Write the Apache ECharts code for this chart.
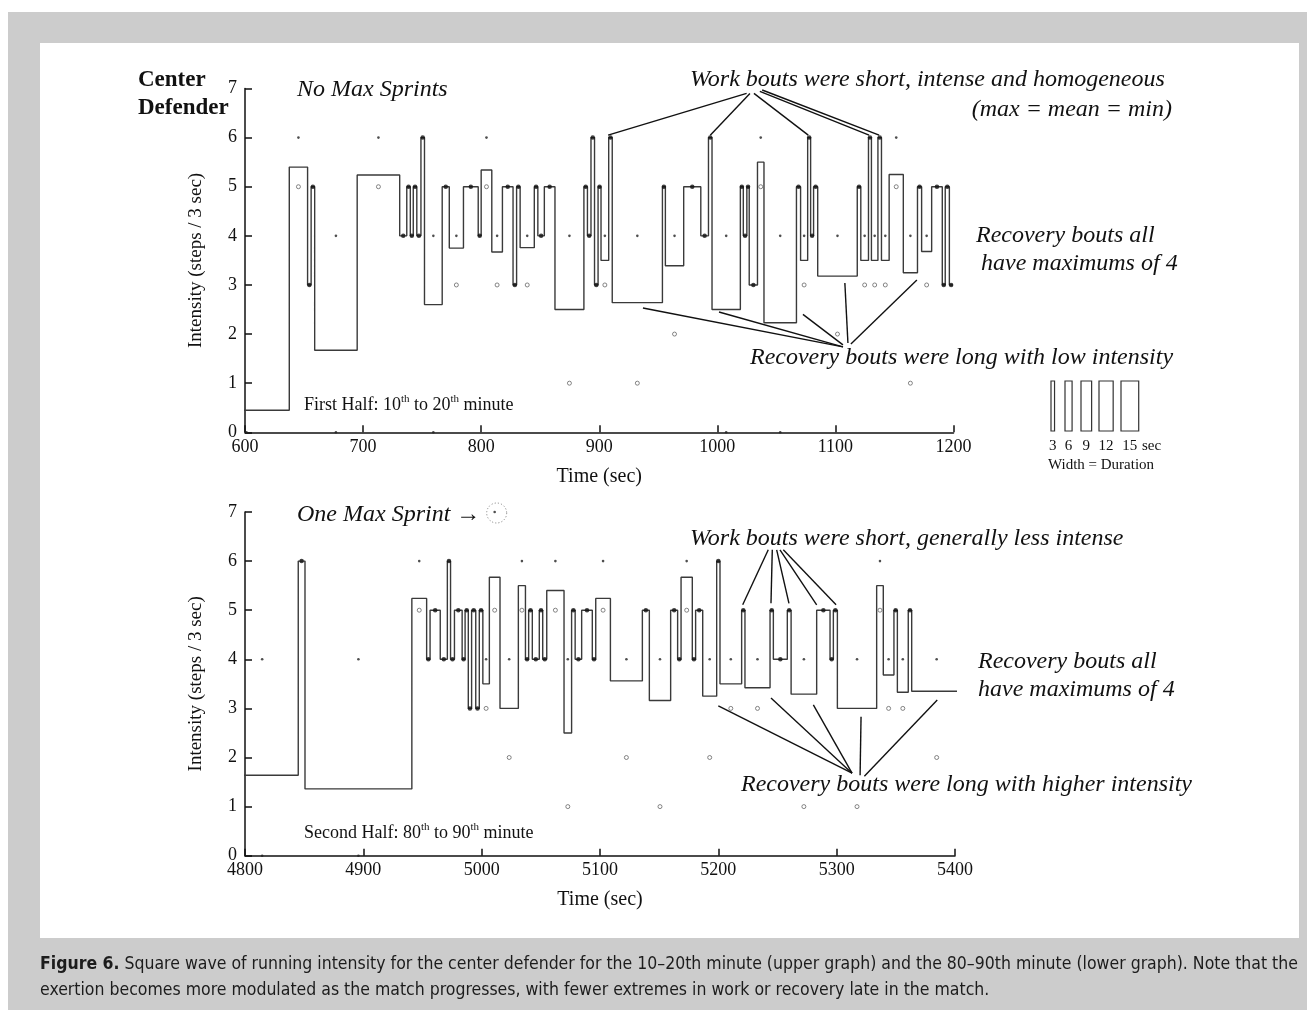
<!DOCTYPE html>
<html>
<head>
<meta charset="utf-8">
<title>Center defender running intensity</title>
<script src="https://cdn.jsdelivr.net/npm/echarts@6/dist/echarts.min.js"></script>
<style>
  html, body { margin: 0; padding: 0; background: #ffffff; }
  #frame { position: absolute; left: 8px; top: 12px; width: 1299px; height: 998px; background: #cccccc; }
  #panel { position: absolute; left: 40px; top: 43px; width: 1259px; height: 895px; background: #ffffff; }
  #chart { position: absolute; left: 0; top: 0; width: 1307px; height: 1017px; }
  #caption {
    position: absolute; left: 40px; top: 950px; white-space: nowrap;
    font-family: "Liberation Sans Narrow", "DejaVu Sans Condensed", "Liberation Sans", sans-serif;
    font-size: 17.5px; line-height: 26px; color: #1c1c1c;
  }
  #caption b { font-weight: bold; }
</style>
</head>
<body>
<div id="frame"></div>
<div id="panel"></div>
<div id="chart"></div>
<div id="caption"><b>Figure 6.</b> Square wave of running intensity for the center defender for the 10–20th minute (upper graph) and the 80–90th minute (lower graph). Note that the<br>exertion becomes more modulated as the match progresses, with fewer extremes in work or recovery late in the match.</div>

<script>
// ---------- First half, 10th–20th minute (time in s) ----------
// Bout boundaries: bout i runs from firstEdges[i] to firstEdges[i+1]
const firstEdges = [565, 637.5, 653, 656, 659, 695, 731, 737, 740, 742.5, 745.5, 749, 752, 767, 773, 785,
  797.5, 800, 809, 818, 827, 830, 833, 845, 848, 853.5, 862.5, 887, 890, 893, 896, 899, 901.5, 908, 911,
  953.5, 956, 971.5, 986, 992.5, 995.5, 1019.5, 1022, 1025, 1027, 1034, 1039.5, 1067, 1070.5, 1076.5,
  1079, 1081.5, 1085, 1118.5, 1121.5, 1128, 1130.5, 1136, 1139, 1145.5, 1157.5, 1169.5, 1173, 1181.5,
  1190.5, 1193, 1196.5, 1199.5];
// Mean intensity of each bout (steps / 3 s)
const firstMean = [0.45, 5.4, 3, 5, 1.67, 5.24, 4, 5, 4, 5, 4, 6, 2.6, 5, 3.75, 5, 4, 5.34, 3.67, 5, 3, 5,
  3.76, 5, 4, 5, 2.5, 5, 4, 6, 3, 5, 3.5, 6, 2.64, 5, 3.39, 5, 4, 6, 2.5, 5, 4, 5, 3, 5.5, 2.23, 5, 3.5, 6,
  4, 5, 3.18, 5, 3.5, 6, 3.5, 6, 3.5, 5.25, 3.25, 5, 3.68, 5, 3, 5, 3];
// Maximum and minimum sample of each bout
const firstMax = [null, 6, 3, 5, 4, 6, 4, 5, 4, 5, 4, 6, 4, 5, 4, 5, 4, 6, 4, 5, 3, 5, 4, 5, 4, 5, 4, 5, 4,
  6, 3, 5, 4, 6, 4, 5, 4, 5, 4, 6, 4, 5, 4, 5, 3, 6, 4, 5, 4, 6, 4, 5, 4, 5, 4, 6, 4, 6, 4, 6, 4, 5, 4, 5,
  3, 5, 3];
const firstMin = [0, 5, 3, 5, 0, 5, 4, 5, 4, 5, 4, 6, 0, 5, 3, 5, 4, 5, 3, 5, 3, 5, 3, 5, 4, 5, 1, 5, 4, 6,
  3, 5, 3, 6, 1, 5, 2, 5, 4, 6, 0, 5, 4, 5, 3, 5, 0, 5, 3, 6, 4, 5, 2, 5, 3, 6, 3, 6, 3, 5, 1, 5, 3, 5, 3,
  5, 3];

// ---------- Second half, 80th–90th minute ----------
const secondEdges = [4784, 4845, 4850.7, 4941, 4953.5, 4956.4, 4965, 4971, 4973.7, 4977, 4983.5, 4986,
  4988.7, 4991.5, 4995, 4998, 5001, 5006.5, 5015.5, 5031, 5037, 5039.7, 5042.8, 5048.7, 5051.6, 5055,
  5069.6, 5076, 5079, 5084.5, 5093.5, 5096.4, 5108.8, 5135.8, 5141.7, 5159.7, 5165.6, 5168.5, 5178,
  5180.8, 5186.8, 5198.6, 5201.4, 5219.7, 5222.5, 5243.7, 5246.5, 5258.3, 5261.5, 5283.1, 5294.4,
  5297.2, 5300.6, 5333.8, 5339.4, 5348.4, 5351.3, 5360.5, 5363.4, 5405.6];
const secondMean = [1.64, 6, 1.36, 5.24, 4, 5, 4, 6, 4, 5, 4, 5, 3, 5, 3, 5, 3.5, 5.67, 3, 5.5, 4, 5, 4, 5,
  4, 5.4, 2.5, 5, 4, 5, 4, 5.24, 3.56, 5, 3.16, 5, 4, 5.67, 4, 5, 3.25, 6, 3.5, 5, 3.42, 5, 4, 5, 3.29, 5,
  4, 5, 3, 5.5, 3.68, 5, 3.33, 5, 3.35];
const secondMax = [4, 6, 4, 6, 4, 5, 4, 6, 4, 5, 4, 5, 3, 5, 3, 5, 4, 7, 4, 6, 4, 5, 4, 5, 4, 6, 4, 5, 4, 5,
  4, 6, 4, 5, 4, 5, 4, 6, 4, 5, 4, 6, 4, 5, 4, 5, 4, 5, 4, 5, 4, 5, 4, 6, 4, 5, 4, 5, 4];
const secondMin = [0, 6, 0, 5, 4, 5, 4, 6, 4, 5, 4, 5, 3, 5, 3, 5, 3, 5, 2, 5, 4, 5, 4, 5, 4, 5, 1, 5, 4, 5,
  4, 5, 2, 5, 1, 5, 4, 5, 4, 5, 2, 6, 3, 5, 3, 5, 4, 5, 1, 5, 4, 5, 1, 5, 3, 5, 3, 5, 2];

// Axis ticks
const firstTicks = [600, 700, 800, 900, 1000, 1100, 1200];
const secondTicks = [4800, 4900, 5000, 5100, 5200, 5300, 5400];
const intensityTicks = [0, 1, 2, 3, 4, 5, 6, 7];
// Bout widths shown in the duration key (s)
const keyDurations = [3, 6, 9, 12, 15];

const SERIF = '"Liberation Serif", "Times New Roman", serif';

// Square wave: hold each bout's mean level across its duration
function squareWave(edges, mean) {
  const pts = [];
  for (let i = 0; i < mean.length; i++) {
    pts.push([edges[i], mean[i]], [edges[i + 1], mean[i]]);
  }
  return pts;
}

// Per-bout markers at the bout centre: homogeneous bouts (max = min) get one dot,
// mixed bouts get a dot at the maximum and a ring at the minimum (a dot when it sits on zero)
function boutMarkers(edges, max, min) {
  const solid = [], tops = [], lows = [];
  for (let i = 0; i < max.length; i++) {
    const c = (edges[i] + edges[i + 1]) / 2;
    if (max[i] !== null && max[i] === min[i]) {
      solid.push([c, max[i]]);
    } else {
      if (max[i] !== null) tops.push([c, max[i]]);
      if (min[i] !== null) (min[i] === 0 ? tops : lows).push([c, min[i]]);
    }
  }
  return { solid, tops, lows };
}

const m1 = boutMarkers(firstEdges, firstMax, firstMin);
const m2 = boutMarkers(secondEdges, secondMax, secondMin);

function xAxisFor(idx, ticks) {
  return {
    type: 'value', gridIndex: idx,
    min: ticks[0], max: ticks[ticks.length - 1], interval: ticks[1] - ticks[0],
    name: 'Time (sec)', nameLocation: 'middle', nameGap: 34,
    nameTextStyle: { fontFamily: SERIF, fontSize: 20, color: '#111' },
    axisLine: { onZero: false, lineStyle: { color: '#111', width: 1.5 } },
    axisTick: { inside: true, length: 7, lineStyle: { color: '#111', width: 1.5 } },
    axisLabel: { fontFamily: SERIF, fontSize: 18, color: '#111', margin: 6, formatter: v => String(v) },
    splitLine: { show: false }
  };
}
function yAxisFor(idx) {
  return {
    type: 'value', gridIndex: idx,
    min: intensityTicks[0], max: intensityTicks[intensityTicks.length - 1], interval: 1,
    name: 'Intensity (steps / 3 sec)', nameLocation: 'middle', nameGap: 39,
    nameTextStyle: { fontFamily: SERIF, fontSize: 19, color: '#111' },
    axisLine: { lineStyle: { color: '#111', width: 1.5 } },
    axisTick: { inside: true, length: 7, lineStyle: { color: '#111', width: 1.5 } },
    axisLabel: { fontFamily: SERIF, fontSize: 18, color: '#111', margin: 8 },
    splitLine: { show: false }
  };
}

function seriesFor(idx, edges, mean, mk) {
  return [
    {
      type: 'line', xAxisIndex: idx, yAxisIndex: idx, data: squareWave(edges, mean),
      showSymbol: false, clip: true, silent: true, z: 2,
      lineStyle: { color: '#3a3a3a', width: 1.4 }
    },
    {
      type: 'scatter', xAxisIndex: idx, yAxisIndex: idx, data: mk.solid,
      symbol: 'circle', symbolSize: 4.5, clip: false, silent: true, z: 4,
      itemStyle: { color: '#111' }
    },
    {
      type: 'scatter', xAxisIndex: idx, yAxisIndex: idx, data: mk.tops,
      symbol: 'circle', symbolSize: 2.6, clip: false, silent: true, z: 4,
      itemStyle: { color: '#222' }
    },
    {
      type: 'scatter', xAxisIndex: idx, yAxisIndex: idx, data: mk.lows,
      symbol: 'circle', symbolSize: 4, clip: false, silent: true, z: 4,
      itemStyle: { color: '#ffffff', borderColor: '#666', borderWidth: 1 }
    }
  ];
}

const chart = echarts.init(document.getElementById('chart'));
chart.setOption({
  animation: false,
  backgroundColor: 'transparent',
  grid: [
    { left: 245, top: 88.5, width: 708.5, height: 343.8 },
    { left: 245, top: 512, width: 710, height: 343.7 }
  ],
  xAxis: [xAxisFor(0, firstTicks), xAxisFor(1, secondTicks)],
  yAxis: [yAxisFor(0), yAxisFor(1)],
  series: [].concat(
    seriesFor(0, firstEdges, firstMean, m1),
    seriesFor(1, secondEdges, secondMean, m2)
  )
});

// ---------- Annotations ----------
const P = (g, pt) => chart.convertToPixel({ gridIndex: g }, pt);

function label(x, y, text, font, align) {
  return {
    type: 'text', x: x, y: y, z: 10, silent: true,
    style: { text: text, font: font, fill: '#111', align: align || 'left', verticalAlign: 'middle' }
  };
}
function leader(g, from, to) {
  const a = P(g, from), b = P(g, to);
  return {
    type: 'line', z: 9, silent: true,
    shape: { x1: a[0], y1: a[1], x2: b[0], y2: b[1] },
    style: { stroke: '#111', lineWidth: 1.4 }
  };
}

const IT = 'italic 24px ' + SERIF;
const graphics = [];

// Upper panel titles
graphics.push(label(138, 80, 'Center', 'bold 23px ' + SERIF));
graphics.push(label(138, 108, 'Defender', 'bold 23px ' + SERIF));
graphics.push(label(297, 90, 'No Max Sprints', IT));
graphics.push(label(690, 80, 'Work bouts were short, intense and homogeneous', IT));
graphics.push(label(1172, 110, '(max = mean = min)', IT, 'right'));
graphics.push(label(976, 236, 'Recovery bouts all', IT));
graphics.push(label(981, 264, 'have maximums of 4', IT));
graphics.push(label(750, 358, 'Recovery bouts were long with low intensity', IT));

// Lower panel titles
graphics.push(label(297, 515, 'One Max Sprint \u2192', IT));
graphics.push(label(690, 539, 'Work bouts were short, generally less intense', IT));
graphics.push(label(978, 662, 'Recovery bouts all', IT));
graphics.push(label(978, 690, 'have maximums of 4', IT));
graphics.push(label(741, 785, 'Recovery bouts were long with higher intensity', IT));

// Period labels with superscript ordinals
function periodLabel(x, y, text) {
  return {
    type: 'text', x: x, y: y, z: 10, silent: true,
    style: {
      text: text, fontFamily: SERIF, fontSize: 18, fill: '#111',
      verticalAlign: 'middle', lineHeight: 22,
      rich: {
        n: { fontFamily: SERIF, fontSize: 18, fill: '#111', lineHeight: 22 },
        s: { fontFamily: SERIF, fontSize: 11, fill: '#111', verticalAlign: 'top', lineHeight: 12 }
      }
    }
  };
}
graphics.push(periodLabel(304, 405, '{n|First Half: 10}{s|th}{n| to 20}{s|th}{n| minute}'));
graphics.push(periodLabel(304, 833, '{n|Second Half: 80}{s|th}{n| to 90}{s|th}{n| minute}'));

// Leader lines (time, intensity)
[
  [[1024.8, 6.90], [907.5, 6.05]],
  [[1027.6, 6.90], [994, 6.05]],
  [[1031, 6.90], [1077, 6.05]],
  [[1036, 6.94], [1128.5, 6.05]],
  [[1038, 6.97], [1137, 6.05]]
].forEach(l => graphics.push(leader(0, l[0], l[1])));
[
  [[937, 2.53], [1106.4, 1.74]],
  [[1001.4, 2.45], [1106.4, 1.74]],
  [[1072.5, 2.40], [1106.4, 1.78]],
  [[1108, 3.04], [1110.6, 1.82]],
  [[1169, 3.10], [1113.1, 1.80]]
].forEach(l => graphics.push(leader(0, l[0], l[1])));
[
  [[5242.2, 6.23], [5220.6, 5.11]],
  [[5245.6, 6.23], [5244.5, 5.14]],
  [[5249.3, 6.23], [5259.7, 5.14]],
  [[5252.1, 6.23], [5283.1, 5.11]],
  [[5254.9, 6.23], [5299.5, 5.11]]
].forEach(l => graphics.push(leader(1, l[0], l[1])));
[
  [[5200, 3.05], [5313, 1.68]],
  [[5244.5, 3.21], [5313, 1.68]],
  [[5280.3, 3.07], [5313, 1.68]],
  [[5320.6, 2.83], [5319.8, 1.64]],
  [[5385, 3.17], [5323.4, 1.62]]
].forEach(l => graphics.push(leader(1, l[0], l[1])));

// Dotted ring around the single maximal sprint sample
const sprintIdx = secondMax.indexOf(7);
const sprintPt = P(1, [(secondEdges[sprintIdx] + secondEdges[sprintIdx + 1]) / 2, secondMax[sprintIdx]]);
graphics.push({
  type: 'circle', z: 9, silent: true,
  shape: { cx: sprintPt[0] + 2, cy: sprintPt[1] + 1, r: 10 },
  style: { fill: 'none', stroke: '#888', lineWidth: 1, lineDash: [1.2, 2] }
});

// Duration key: box widths use the same seconds-to-pixels scale as the time axis
const pxPerSec = P(0, [700, 0])[0] - P(0, [600, 0])[0];
const keyLeft = [1051, 1065, 1081, 1099, 1121];
keyDurations.forEach((d, i) => {
  const w = d * pxPerSec / 100;
  graphics.push({
    type: 'rect', z: 9, silent: true,
    shape: { x: keyLeft[i], y: 381, width: w, height: 50 },
    style: { fill: '#fff', stroke: '#333', lineWidth: 1.2 }
  });
  graphics.push(label(keyLeft[i] + w / 2, 446, String(d), '15px ' + SERIF, 'center'));
});
graphics.push(label(1142, 446, 'sec', '15px ' + SERIF));
graphics.push(label(1101, 465, 'Width = Duration', '15px ' + SERIF, 'center'));

chart.setOption({ graphic: graphics });
</script>
</body>
</html>
